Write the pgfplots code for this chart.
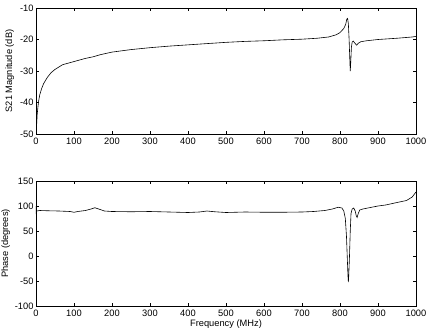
\documentclass[border=0pt]{standalone}
\usepackage{pgfplots}
\pgfplotsset{compat=1.18}
\usepackage{fontspec}
\setmainfont{Liberation Sans}
\begin{document}
\begin{tikzpicture}[x=1pt,y=1pt]
\useasboundingbox (0,0) rectangle (429,-333);
\pgfplotsset{myax/.style={
  scale only axis, width=380pt, anchor=north west,
  xmin=0, xmax=1000, xtick={0,100,...,1000},
  tick align=inside, major tick length=3pt,
  xtick pos=both, ytick pos=both,
  tick style={black, line width=0.5pt},
  axis line style={line width=0.6pt},
  /pgf/number format/assume math mode=true,
  /pgf/number format/set thousands separator={},
  tick label style={font=\fontsize{9.3}{10}\selectfont},
  label style={font=\fontsize{9.3}{10}\selectfont},
  xticklabel style={yshift=0pt},
  yticklabel style={xshift=1pt},
}}
\begin{axis}[myax, at={(36pt,-8pt)}, height=126pt,
  ymin=-50, ymax=-10, ytick={-50,-40,...,-10},
  ylabel={S21 Magnitude (dB)}, ylabel style={yshift=-1pt}]
\addplot[black, line width=0.6pt] coordinates {
(1,-48) (2,-46.5) (3,-44) (5,-41.5) (7,-39.5) (10,-37.5) (15,-35.5) (20,-34)
(30,-32) (40,-30.5) (50,-29.5) (70,-28) (100,-27) (130,-26) (150,-25.5)
(170,-24.8) (200,-24) (250,-23.2) (300,-22.6) (350,-22.1) (400,-21.7)
(450,-21.3) (500,-20.9) (550,-20.6) (600,-20.4) (650,-20.1) (700,-19.9)
(740,-19.6) (770,-19.2) (790,-18.5) (800,-17.8) (810,-16.5) (815,-15.2)
(818,-13.5) (820,-13.3) (822,-15) (824,-20) (826,-27) (827,-30) (828,-28)
(830,-22.5) (832,-20.8) (835,-20.5) (840,-21.3) (844,-21.8) (848,-21.2)
(855,-20.7) (870,-20.4) (900,-20) (950,-19.6) (990,-19.2) (1000,-19)
};
\end{axis}
\begin{axis}[myax, at={(36pt,-181pt)}, height=125pt,
  ymin=-100, ymax=150, ytick={-100,-50,...,150},
  ylabel={Phase (degrees)}, xlabel={Frequency (MHz)},
  ylabel style={yshift=-2pt},
  xlabel style={yshift=3pt}]
\addplot[black, line width=0.6pt] coordinates {
(0,100) (0.5,84) (1,93) (2,90) (10,91) (30,90.5) (60,90) (90,89) (100,87.5)
(110,89) (130,91) (145,94) (155,96.5) (165,94) (180,90) (200,89) (250,88.5)
(300,89) (350,88) (400,87) (430,88) (450,90) (470,88.5) (500,87) (550,88)
(600,87.5) (650,87.5) (700,88) (730,89) (760,91) (780,94) (795,97.5)
(805,96) (810,90) (814,75) (817,40) (819,0) (821,-40) (822,-52) (823,-40)
(825,0) (827,50) (829,85) (832,94) (836,96) (840,90) (843,80) (845,77)
(848,85) (852,92) (860,94) (880,97) (900,100) (920,102) (950,107)
(975,111) (990,118) (1000,128)
};
\end{axis}
\end{tikzpicture}
\end{document}
